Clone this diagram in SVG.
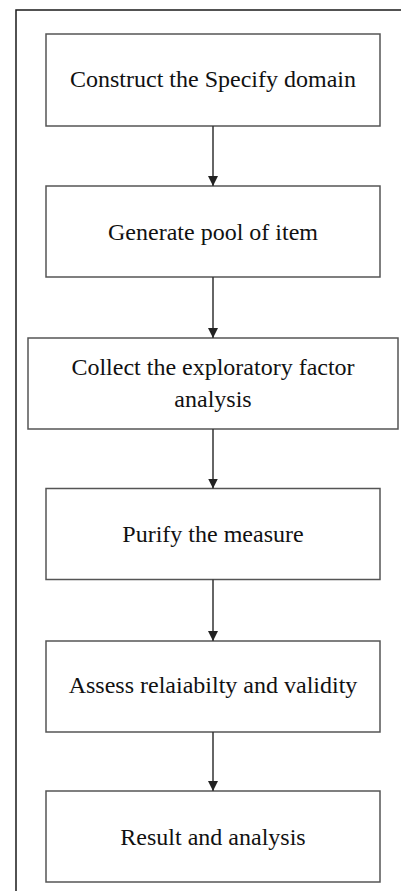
<svg xmlns="http://www.w3.org/2000/svg" width="401" height="891" viewBox="0 0 401 891">
<defs>
<style>
.frame{fill:none;stroke:#1a1a1a;stroke-width:1.5}
.box{fill:#fff;stroke:#555;stroke-width:1.5}
.lbl{font-family:"Liberation Serif","Times New Roman",serif;font-size:24px;fill:#111;text-anchor:middle}
.conn{stroke:#333;stroke-width:1.5;fill:none}
</style>
<marker id="ah" markerWidth="10" markerHeight="10" refX="10" refY="5" orient="auto" markerUnits="userSpaceOnUse">
<path d="M0,0 L10,5 L0,10 Z" fill="#222"/>
</marker>
</defs>
<rect width="401" height="891" fill="#fff"/>
<rect class="frame" x="16" y="10" width="400" height="900"/>
<g id="n1"><rect class="box" x="46" y="34" width="334" height="92"/><text class="lbl" x="213" y="87">Construct the Specify domain</text></g>
<g id="n2"><rect class="box" x="46" y="186" width="334" height="91"/><text class="lbl" x="213" y="240">Generate pool of item</text></g>
<g id="n3"><rect class="box" x="28" y="338" width="370" height="91"/><text class="lbl" x="213" y="375">Collect the exploratory factor</text><text class="lbl" x="213" y="406.5">analysis</text></g>
<g id="n4"><rect class="box" x="46" y="488.5" width="334" height="91"/><text class="lbl" x="213" y="542">Purify the measure</text></g>
<g id="n5"><rect class="box" x="46" y="641" width="334" height="91"/><text class="lbl" x="213" y="693">Assess relaiabilty and validity</text></g>
<g id="n6"><rect class="box" x="46" y="791" width="334" height="91"/><text class="lbl" x="213" y="845">Result and analysis</text></g>
<g id="connectors">
<line class="conn" x1="213" y1="126" x2="213" y2="186" marker-end="url(#ah)"/>
<line class="conn" x1="213" y1="277" x2="213" y2="338" marker-end="url(#ah)"/>
<line class="conn" x1="213" y1="429" x2="213" y2="488.5" marker-end="url(#ah)"/>
<line class="conn" x1="213" y1="579.5" x2="213" y2="641" marker-end="url(#ah)"/>
<line class="conn" x1="213" y1="732" x2="213" y2="791" marker-end="url(#ah)"/>
</g>
</svg>
